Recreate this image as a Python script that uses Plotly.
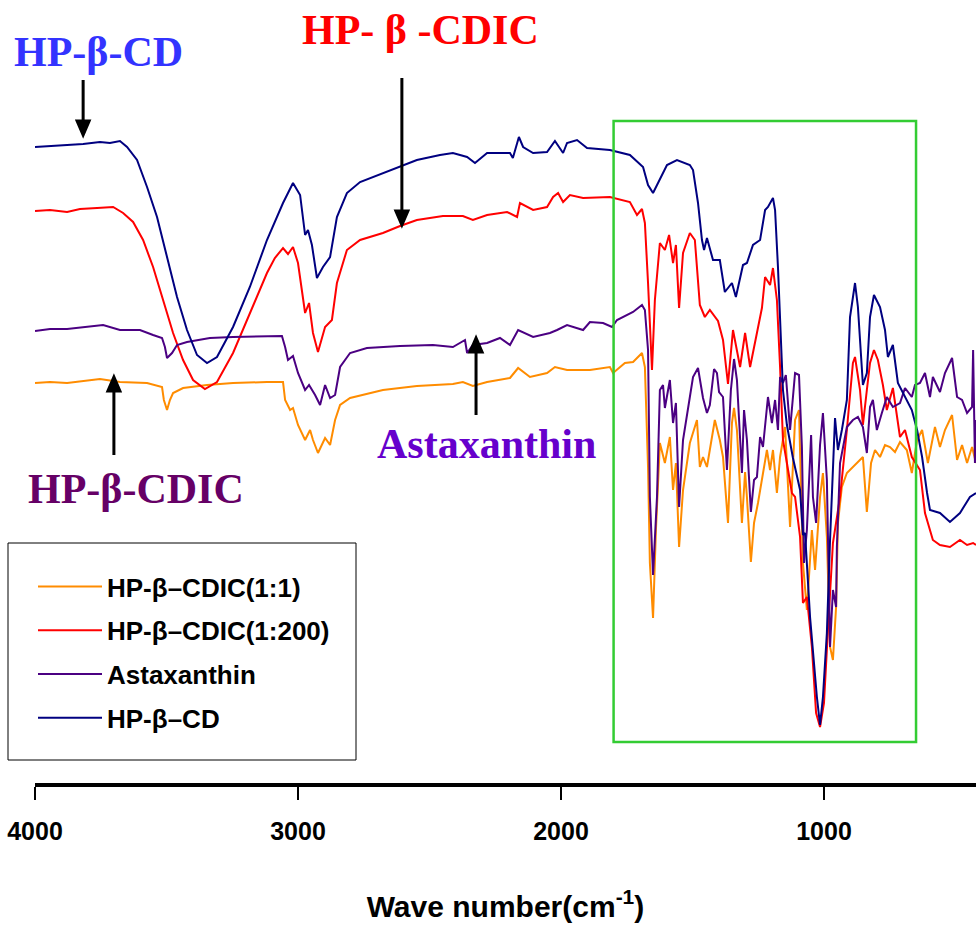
import plotly.graph_objects as go

# ---------------- data (wavenumber cm-1, transmittance a.u.) ----------------
wn_cd = [4000, 3943, 3878, 3817, 3753, 3715, 3677, 3650, 3612, 3574, 3536, 3498, 3460, 3422, 3384, 3346, 3308,
         3247, 3183, 3118, 3057, 3019, 2992, 2973, 2962, 2947, 2928, 2905, 2878, 2852, 2814, 2764, 2677, 2612,
         2548, 2460, 2411, 2357, 2327, 2281, 2194, 2183, 2160, 2144, 2106, 2053, 2023, 1992, 1977, 1939, 1901,
         1814, 1738, 1688, 1669, 1650, 1624, 1597, 1559, 1510, 1498, 1479, 1464, 1456, 1445, 1422, 1396, 1377,
         1350, 1335, 1308, 1293, 1270, 1243, 1224, 1213, 1194, 1186, 1175, 1163, 1156, 1141, 1118, 1091, 1080,
         1072, 1065, 1053, 1027, 1015, 1004, 989, 977, 966, 958, 947, 932, 913, 901, 882, 871, 852, 837, 825,
         810, 787, 768, 757, 738, 719, 692, 666, 646, 627, 608, 597, 559, 521, 483, 445, 422]
t_cd = [653, 654, 655, 656, 658, 657, 659, 653, 640, 613, 583, 543, 503, 470, 445, 437, 443,
        473, 513, 560, 597, 617, 605, 565, 570, 555, 522, 533, 543, 583, 607, 618, 627, 633,
        640, 645, 647, 643, 637, 647, 647, 642, 663, 653, 647, 648, 659, 647, 657, 660, 652,
        650, 645, 633, 615, 607, 620, 635, 640, 635, 630, 597, 560, 550, 562, 540, 540, 508,
        517, 503, 535, 537, 555, 560, 590, 593, 602, 590, 533, 460, 410, 375, 342, 310, 265,
        267, 237, 183, 103, 75, 103, 167, 260, 337, 382, 350, 370, 400, 483, 517, 493, 415, 427, 483,
        505, 493, 470, 443, 455, 417, 403, 390, 370, 343, 307, 290, 287, 278, 287, 303, 307]

wn_200 = [4000, 3943, 3878, 3829, 3764, 3703, 3665, 3627, 3589, 3551, 3513, 3475, 3437, 3399, 3354, 3308, 3247,
          3183, 3118, 3088, 3057, 3038, 3019, 3000, 2973, 2958, 2943, 2924, 2897, 2871, 2852, 2814, 2764, 2677,
          2612, 2548, 2449, 2373, 2335, 2281, 2205, 2167, 2156, 2106, 2053, 2030, 2011, 1992, 1966, 1916, 1814,
          1738, 1711, 1692, 1681, 1669, 1654, 1643, 1624, 1605, 1589, 1574, 1563, 1551, 1536, 1510, 1491, 1472,
          1453, 1434, 1403, 1384, 1365, 1346, 1319, 1300, 1281, 1255, 1236, 1224, 1205, 1194, 1179, 1167, 1156,
          1141, 1122, 1110, 1091, 1080, 1065, 1046, 1030, 1015, 1000, 985, 966, 939, 913, 890, 882, 863, 852,
          837, 825, 810, 795, 776, 761, 738, 711, 692, 666, 635, 616, 586, 559, 521, 483, 456, 433, 422]
t_200 = [589, 590, 588, 591, 592, 593, 587, 578, 560, 533, 500, 467, 440, 420, 411, 418, 447,
         487, 527, 542, 552, 546, 553, 537, 487, 497, 467, 448, 473, 480, 517, 550, 560, 567,
         574, 580, 584, 584, 580, 585, 588, 583, 597, 590, 593, 603, 607, 598, 605, 602, 603,
         598, 585, 591, 577, 517, 430, 500, 557, 550, 565, 537, 555, 492, 547, 567, 560, 495,
         483, 490, 479, 460, 416, 470, 433, 467, 433, 467, 492, 523, 515, 532, 500, 433, 360,
         337, 307, 303, 263, 197, 203, 153, 87, 73, 97, 170, 257, 303, 370, 437, 443, 410, 375,
         410, 437, 450, 440, 415, 390, 412, 363, 370, 343, 330, 287, 260, 255, 253, 260, 255, 257, 255]

wn_ast = [4000, 3943, 3878, 3817, 3741, 3677, 3601, 3551, 3517, 3506, 3498, 3479, 3460, 3422, 3335, 3247, 3118,
          3061, 3049, 3038, 3019, 3000, 2973, 2958, 2935, 2916, 2897, 2878, 2859, 2840, 2802, 2738, 2612, 2487,
          2411, 2365, 2357, 2335, 2281, 2232, 2194, 2163, 2106, 2042, 2015, 1977, 1916, 1890, 1840, 1806, 1787,
          1764, 1726, 1692, 1681, 1669, 1662, 1650, 1635, 1624, 1612, 1605, 1586, 1574, 1563, 1551, 1536, 1510,
          1498, 1479, 1472, 1460, 1445, 1434, 1418, 1407, 1399, 1384, 1369, 1354, 1342, 1331, 1312, 1304, 1293,
          1278, 1266, 1255, 1243, 1232, 1213, 1198, 1186, 1175, 1167, 1156, 1145, 1129, 1110, 1095, 1084, 1076,
          1065, 1049, 1042, 1030, 1015, 1004, 989, 977, 966, 954, 951, 939, 913, 890, 871, 852, 837, 825, 814,
          799, 780, 761, 738, 711, 692, 666, 654, 635, 616, 597, 586, 559, 540, 513, 494, 475, 456, 437, 433,
          426, 422]
t_ast = [469, 471, 471, 473, 475, 470, 470, 465, 462, 453, 442, 447, 455, 458, 462, 463, 464,
         464, 453, 440, 444, 427, 410, 415, 405, 395, 415, 402, 405, 433, 447, 452, 454, 455,
         453, 460, 447, 455, 457, 462, 455, 470, 463, 467, 470, 475, 470, 478, 477, 473, 480,
         483, 488, 495, 490, 450, 303, 225, 303, 410, 415, 392, 420, 377, 397, 293, 360, 403,
         423, 432, 420, 402, 387, 395, 431, 427, 408, 403, 330, 410, 441, 420, 327, 390, 360,
         288, 320, 323, 363, 353, 403, 377, 400, 370, 423, 417, 425, 370, 427, 425, 353, 237,
         270, 365, 303, 277, 355, 387, 320, 153, 210, 193, 253, 337, 373, 380, 383, 373, 347, 393, 400,
         370, 387, 403, 393, 397, 412, 403, 415, 417, 427, 403, 423, 408, 427, 442, 403, 400, 387, 393, 450,
         337, 380]

wn_11 = [4000, 3943, 3878, 3817, 3753, 3677, 3574, 3517, 3510, 3498, 3487, 3475, 3437, 3346, 3247, 3118, 3057,
         3049, 3030, 3019, 3000, 2973, 2954, 2943, 2924, 2897, 2878, 2859, 2840, 2802, 2677, 2548, 2411, 2373,
         2335, 2281, 2194, 2163, 2118, 2053, 2023, 1977, 1890, 1814, 1802, 1757, 1726, 1692, 1681, 1669, 1662,
         1650, 1639, 1624, 1605, 1586, 1574, 1563, 1551, 1536, 1510, 1483, 1472, 1460, 1445, 1415, 1396, 1384,
         1365, 1350, 1342, 1331, 1312, 1300, 1293, 1278, 1266, 1251, 1232, 1217, 1205, 1194, 1179, 1167, 1148,
         1129, 1110, 1095, 1080, 1065, 1046, 1034, 1015, 1004, 989, 977, 966, 954, 947, 932, 913, 890, 871, 852,
         837, 821, 806, 787, 768, 749, 730, 711, 685, 666, 646, 627, 605, 578, 559, 540, 513, 494, 475, 456, 437,
         422]
t_11 = [417, 418, 417, 419, 421, 418, 417, 413, 400, 390, 400, 407, 412, 415, 417, 418, 418,
        400, 390, 392, 375, 360, 370, 360, 347, 362, 355, 380, 395, 402, 410, 414, 416, 418,
        414, 418, 422, 432, 423, 427, 433, 430, 430, 433, 427, 437, 438, 447, 433, 333, 237,
        182, 270, 357, 337, 363, 310, 337, 253, 310, 357, 380, 333, 343, 333, 380, 360, 343,
        277, 377, 392, 370, 277, 328, 303, 238, 277, 297, 327, 350, 330, 350, 307, 343, 373,
        273, 380, 390, 237, 190, 270, 230, 303, 327, 263, 153, 140, 193, 277, 313, 327, 333, 337, 343,
        288, 337, 350, 343, 355, 353, 348, 358, 350, 327, 360, 370, 337, 373, 353, 370, 385, 340, 355, 337, 353,
        337]

series_names = ["HP-β–CDIC(1:1)", "HP-β–CDIC(1:200)", "Astaxanthin", "HP-β–CD"]
series_colors = ["#FF8C00", "#FF0000", "#4B0082", "#000080"]
series_x = [wn_11, wn_200, wn_ast, wn_cd]
series_y = [t_11, t_200, t_ast, t_cd]

x_ticks = [4000, 3000, 2000, 1000]
box_range = [1800, 650]

# ---------------- figure geometry ----------------
W, H = 976, 930
ML, MT, MB = 35, 0, 147
PW, PH = W - ML, H - MT - MB   # plot area size


def px(page_x):
    return (page_x - ML) / PW


def py(page_y):
    return 1 - (page_y - MT) / PH


fig = go.Figure()
for name, col, xs, ys in zip(series_names, series_colors, series_x, series_y):
    fig.add_trace(go.Scatter(x=xs, y=ys, mode="lines", name=name, legendgroup=name,
                             line=dict(color=col, width=2)))

serif = "Liberation Serif, Times New Roman, serif"
sans = "Liberation Sans, Arial, sans-serif"

labels = [
    dict(text="HP-β-CD", x=98, y=52, color="#3333FF"),
    dict(text="HP- β -CDIC", x=420, y=30, color="#FF0000"),
    dict(text="Astaxanthin", x=486, y=444, color="#6600CC"),
    dict(text="HP-β-CDIC", x=136, y=489, color="#660066"),
]
for lb in labels:
    fig.add_annotation(text=lb["text"], xref="paper", yref="paper", x=px(lb["x"]), y=py(lb["y"]),
                       xanchor="center", yanchor="middle", showarrow=False,
                       font=dict(family=serif, size=42, color=lb["color"], weight="bold"))

# arrows: tip anchored on the data, drawn in pixel units
arrows = [
    dict(x=3817, y=665, length=55, down=True),
    dict(x=2605, y=575, length=147, down=True),
    dict(x=2323, y=462, length=77, down=False),
    dict(x=3700, y=423, length=78, down=False),
]
for a in arrows:
    s = 1 if a["down"] else -1
    hw, hh, L = 6, 14, a["length"]
    path = (f"M0,0 L{-hw},{s*hh} L{hw},{s*hh} Z "
            f"M0,{s*hh} L0,{s*L}")
    fig.add_shape(type="path", xref="x", yref="y", xsizemode="pixel", ysizemode="pixel",
                  xanchor=a["x"], yanchor=a["y"], path=path,
                  line=dict(color="black", width=3), fillcolor="black", layer="above")

# highlight box
fig.add_shape(type="rect", xref="x", yref="y", x0=box_range[0], x1=box_range[1], y0=58, y1=679,
              line=dict(color="#33CC33", width=2.5), fillcolor="rgba(0,0,0,0)")
# legend frame
fig.add_shape(type="rect", xref="paper", yref="paper", x0=px(8), x1=px(356), y0=py(760), y1=py(543),
              line=dict(color="black", width=1), fillcolor="rgba(0,0,0,0)")

fig.update_layout(
    width=W, height=H,
    margin=dict(l=ML, r=0, t=MT, b=MB, autoexpand=False),
    paper_bgcolor="white", plot_bgcolor="white",
    showlegend=True,
    legend=dict(x=px(33), y=py(563), xanchor="left", yanchor="top",
                borderwidth=0, bgcolor="rgba(0,0,0,0)",
                font=dict(family=sans, size=26, color="black", weight="bold"),
                itemwidth=64, traceorder="grouped", tracegroupgap=7),
    xaxis=dict(range=[4000, 422], tickvals=x_ticks, ticktext=[str(v) for v in x_ticks],
               showline=True, linewidth=4, linecolor="black", ticks="outside", ticklen=13,
               tickwidth=2, tickcolor="black", showgrid=False, zeroline=False,
               tickfont=dict(family=sans, size=25, color="black", weight="bold"),
               ticklabelstandoff=10, ticklabeloverflow="allow",
               title=dict(text="Wave number(cm<sup>-1</sup>)", standoff=53,
                          font=dict(family=sans, size=30, color="black", weight="bold"))),
    yaxis=dict(range=[17, 800], visible=False, showgrid=False, zeroline=False),
)

fig.write_html("out.html", config={"displayModeBar": False},
               post_script="document.body.style.margin='0';document.body.style.overflow='hidden';")
